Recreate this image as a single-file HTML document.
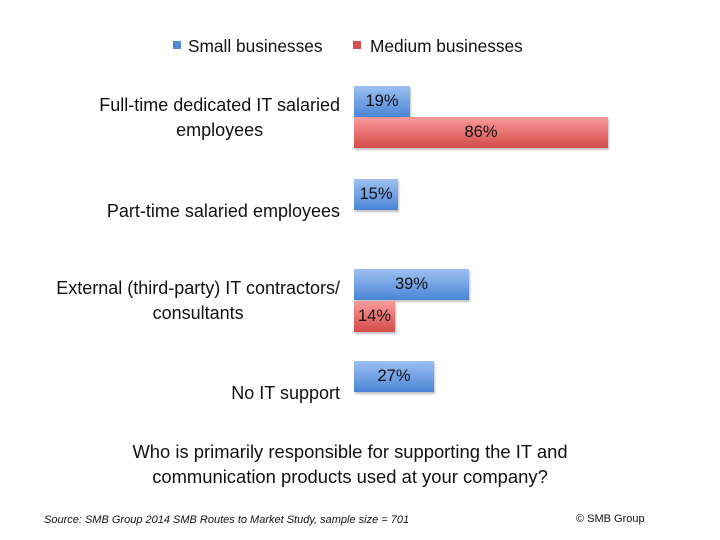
<!DOCTYPE html>
<html><head><style>
body{margin:0;width:720px;height:540px;background:#fff;position:relative;font-family:"Liberation Sans",sans-serif;color:#111;overflow:hidden}
.a{position:absolute;white-space:nowrap}
.lab{position:absolute;font-size:18px;text-align:center;line-height:25px;white-space:nowrap}
.b{position:absolute;left:354px;height:31px;font-size:16.5px;line-height:31px;text-align:center;box-shadow:1px 2px 2px rgba(0,0,0,0.25)}
.bl{background:linear-gradient(#9dc0f2,#4a85d6)}
.rd{background:linear-gradient(#fb9c9c,#d34a48)}
</style></head><body>
<div class="a" style="left:173px;top:41px;width:8px;height:8px;background:#4f8ad8"></div>
<div class="a" style="left:188px;top:36px;font-size:17.3px">Small businesses</div>
<div class="a" style="left:353px;top:41px;width:8px;height:8px;background:#d9514f"></div>
<div class="a" style="left:370px;top:36px;font-size:17.3px">Medium businesses</div>

<div class="lab" style="right:380px;top:93px">Full-time dedicated IT salaried<br>employees</div>
<div class="lab" style="right:380px;top:199px">Part-time salaried employees</div>
<div class="lab" style="right:380px;top:276px">External (third-party) IT contractors/<br>consultants</div>
<div class="lab" style="right:380px;top:381px">No IT support</div>

<div class="b bl" style="top:86px;width:56px">19%</div>
<div class="b rd" style="top:117px;width:254px">86%</div>
<div class="b bl" style="top:179px;width:44px">15%</div>
<div class="b bl" style="top:269px;width:115px">39%</div>
<div class="b rd" style="top:301px;width:41px">14%</div>
<div class="b bl" style="top:361px;width:80px">27%</div>

<div class="a" style="left:0;width:700px;top:439px;text-align:center;font-size:18.4px;line-height:25px">Who is primarily responsible for supporting the IT and<br>communication products used at your company?</div>
<div class="a" style="left:44px;top:514px;font-size:11px;font-style:italic">Source: SMB Group 2014 SMB Routes to Market Study, sample size = 701</div>
<div class="a" style="left:576px;top:513px;font-size:11px">© SMB Group</div>
</body></html>
